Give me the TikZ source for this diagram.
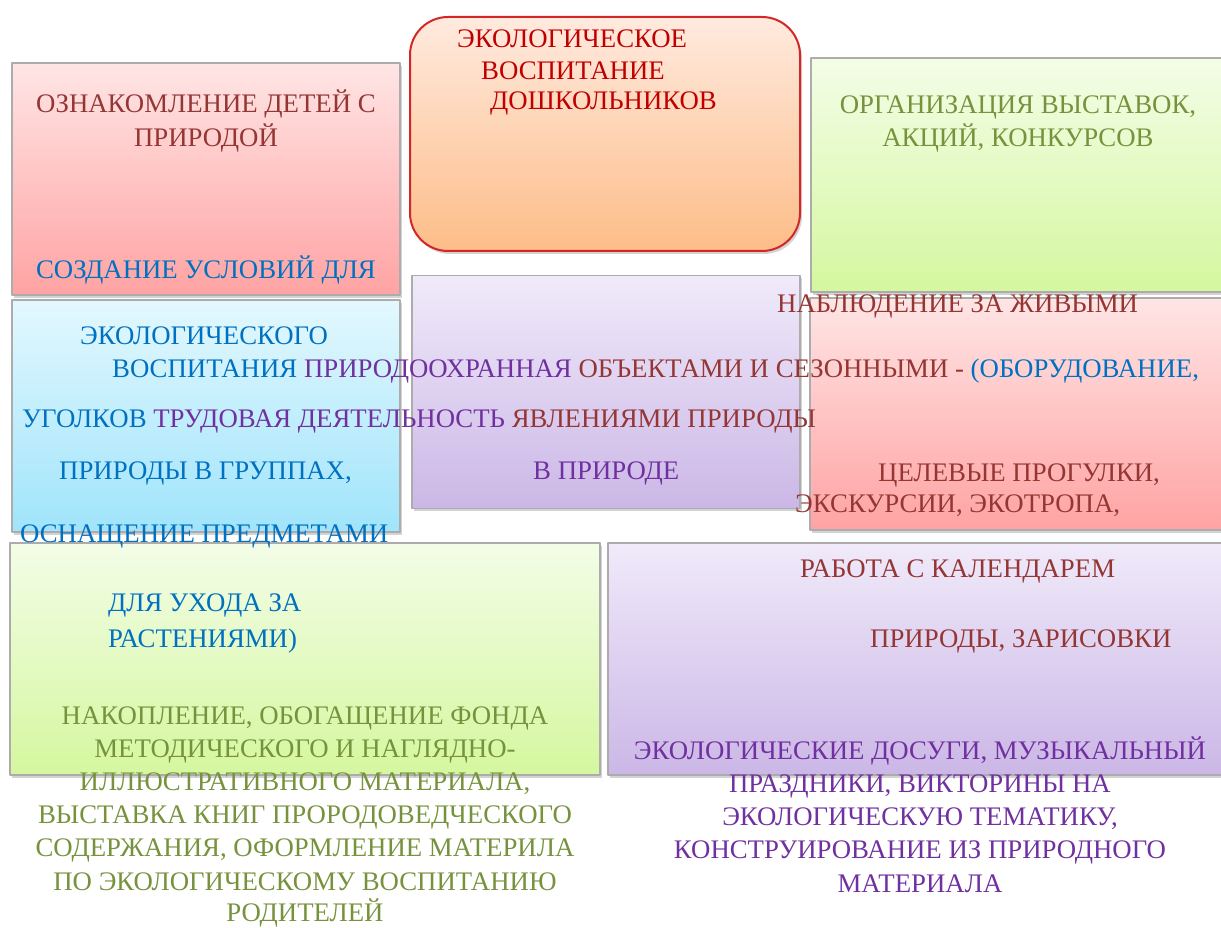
\documentclass[tikz,border=0pt]{standalone}
\usepackage{fontspec}
\setmainfont{Liberation Serif}
\usepackage{tikz}
\usetikzlibrary{shadows}

\definecolor{txtred}{HTML}{943634}
\definecolor{txtblue}{HTML}{0070C0}
\definecolor{txtviolet}{HTML}{7030A0}
\definecolor{txtolive}{HTML}{76923C}
\definecolor{txttitle}{HTML}{C00000}
\definecolor{pinktop}{HTML}{FFE5E5}
\definecolor{pinkbot}{HTML}{FFA3A3}
\definecolor{orangetop}{HTML}{FFEADF}
\definecolor{orangebot}{HTML}{FDBD88}
\definecolor{greentop}{HTML}{F3FDE7}
\definecolor{greenbot}{HTML}{D5F79F}
\definecolor{cyantop}{HTML}{E3F8FE}
\definecolor{cyanbot}{HTML}{A0E4FB}
\definecolor{lilactop}{HTML}{F0EAFA}
\definecolor{lilacbot}{HTML}{CBB7E6}

\begin{document}
\begin{tikzpicture}[line join=bevel,
  panel/.style={rectangle,draw=gray!65,line width=1.2bp,inner sep=0pt,
    drop shadow={shadow xshift=2bp,shadow yshift=-3bp,opacity=0.35}},
  line/.style={inner sep=0pt,font=\fontsize{26.9}{30}\selectfont}]
%%
\useasboundingbox (0bp,0bp) rectangle (1221bp,928bp);
\node (box_nature) at (206bp,749bp) [panel,top color=pinktop,bottom color=pinkbot,minimum width=388bp,minimum height=232bp] {};
  \node (box_title) at (605bp,794bp) [panel,draw=red!80!black!85,line width=2bp,rounded corners=38bp,top color=orangetop,bottom color=orangebot,minimum width=390bp,minimum height=234bp] {};
  \node (box_shows) at (1018bp,753bp) [panel,top color=greentop,bottom color=greenbot,minimum width=414bp,minimum height=234bp] {};
  \node (box_corner) at (206bp,512bp) [panel,top color=cyantop,bottom color=cyanbot,minimum width=388bp,minimum height=232bp] {};
  \node (box_labour) at (606bp,536bp) [panel,top color=lilactop,bottom color=lilacbot,minimum width=388bp,minimum height=233bp] {};
  \node (box_walks) at (1018bp,514bp) [panel,top color=pinktop,bottom color=pinkbot,minimum width=416bp,minimum height=232bp] {};
  \node (box_fund) at (305bp,269bp) [panel,top color=greentop,bottom color=greenbot,minimum width=590bp,minimum height=232bp] {};
  \node (box_leisure) at (918bp,269bp) [panel,top color=lilactop,bottom color=lilacbot,minimum width=620bp,minimum height=232bp] {};
%
\node (title_1) at (457bp,880bp) [line,anchor=base west,text=txttitle] {ЭКОЛОГИЧЕСКОЕ};
  \node (title_2) at (481bp,848bp) [line,anchor=base west,text=txttitle] {ВОСПИТАНИЕ};
  \node (title_3) at (490bp,818bp) [line,anchor=base west,text=txttitle] {ДОШКОЛЬНИКОВ};
  \node (nature_1) at (206bp,815bp) [line,anchor=base,text=txtred] {ОЗНАКОМЛЕНИЕ ДЕТЕЙ С};
  \node (nature_2) at (206bp,781bp) [line,anchor=base,text=txtred] {ПРИРОДОЙ};
  \node (shows_1) at (1018bp,814bp) [line,anchor=base,text=txtolive] {ОРГАНИЗАЦИЯ ВЫСТАВОК,};
  \node (shows_2) at (1018bp,781bp) [line,anchor=base,text=txtolive] {АКЦИЙ, КОНКУРСОВ};
  \node (corner_1) at (206bp,649bp) [line,anchor=base,text=txtblue] {СОЗДАНИЕ УСЛОВИЙ ДЛЯ};
  \node (corner_2) at (80bp,583bp) [line,anchor=base west,text=txtblue] {ЭКОЛОГИЧЕСКОГО};
  \node (mixed_1) at (112bp,550bp) [line,anchor=base west] {\textcolor{txtblue}{ВОСПИТАНИЯ} \textcolor{txtviolet}{ПРИРОДООХРАННАЯ} \textcolor{txtred}{ОБЪЕКТАМИ И СЕЗОННЫМИ -} \textcolor{txtblue}{(ОБОРУДОВАНИЕ,}};
  \node (mixed_2) at (22bp,500bp) [line,anchor=base west] {\textcolor{txtblue}{УГОЛКОВ} \textcolor{txtviolet}{ТРУДОВАЯ ДЕЯТЕЛЬНОСТЬ} \textcolor{txtred}{ЯВЛЕНИЯМИ ПРИРОДЫ}};
  \node (corner_3) at (59bp,448bp) [line,anchor=base west,text=txtblue] {ПРИРОДЫ В ГРУППАХ,};
  \node (corner_4) at (20bp,385bp) [line,anchor=base west,text=txtblue] {ОСНАЩЕНИЕ ПРЕДМЕТАМИ};
  \node (corner_5) at (108bp,316bp) [line,anchor=base west,text=txtblue] {ДЛЯ УХОДА ЗА};
  \node (corner_6) at (108bp,280bp) [line,anchor=base west,text=txtblue] {РАСТЕНИЯМИ)};
  \node (labour_1) at (533bp,448bp) [line,anchor=base west,text=txtviolet] {В ПРИРОДЕ};
  \node (walks_1) at (777bp,615bp) [line,anchor=base west,text=txtred] {НАБЛЮДЕНИЕ ЗА ЖИВЫМИ};
  \node (walks_2) at (878bp,446bp) [line,anchor=base west,text=txtred] {ЦЕЛЕВЫЕ ПРОГУЛКИ,};
  \node (walks_3) at (795bp,415bp) [line,anchor=base west,text=txtred] {ЭКСКУРСИИ, ЭКОТРОПА,};
  \node (calendar_1) at (800bp,350bp) [line,anchor=base west,text=txtred] {РАБОТА С КАЛЕНДАРЕМ};
  \node (calendar_2) at (870bp,280bp) [line,anchor=base west,text=txtred] {ПРИРОДЫ, ЗАРИСОВКИ};
  \node (fund_1) at (305bp,203bp) [line,anchor=base,text=txtolive] {НАКОПЛЕНИЕ, ОБОГАЩЕНИЕ ФОНДА};
  \node (fund_2) at (305bp,170bp) [line,anchor=base,text=txtolive] {МЕТОДИЧЕСКОГО И НАГЛЯДНО-};
  \node (fund_3) at (305bp,137bp) [line,anchor=base,text=txtolive] {ИЛЛЮСТРАТИВНОГО МАТЕРИАЛА,};
  \node (fund_4) at (305bp,104bp) [line,anchor=base,text=txtolive] {ВЫСТАВКА КНИГ ПРОРОДОВЕДЧЕСКОГО};
  \node (fund_5) at (305bp,71bp) [line,anchor=base,text=txtolive] {СОДЕРЖАНИЯ, ОФОРМЛЕНИЕ МАТЕРИЛА};
  \node (fund_6) at (305bp,38bp) [line,anchor=base,text=txtolive] {ПО ЭКОЛОГИЧЕСКОМУ ВОСПИТАНИЮ};
  \node (fund_7) at (305bp,7bp) [line,anchor=base,text=txtolive] {РОДИТЕЛЕЙ};
  \node (leisure_1) at (920bp,168bp) [line,anchor=base,text=txtviolet] {ЭКОЛОГИЧЕСКИЕ ДОСУГИ, МУЗЫКАЛЬНЫЙ};
  \node (leisure_2) at (920bp,135bp) [line,anchor=base,text=txtviolet] {ПРАЗДНИКИ, ВИКТОРИНЫ НА};
  \node (leisure_3) at (920bp,102bp) [line,anchor=base,text=txtviolet] {ЭКОЛОГИЧЕСКУЮ ТЕМАТИКУ,};
  \node (leisure_4) at (920bp,69bp) [line,anchor=base,text=txtviolet] {КОНСТРУИРОВАНИЕ ИЗ ПРИРОДНОГО};
  \node (leisure_5) at (920bp,36bp) [line,anchor=base,text=txtviolet] {МАТЕРИАЛА};
%
\end{tikzpicture}
\end{document}
